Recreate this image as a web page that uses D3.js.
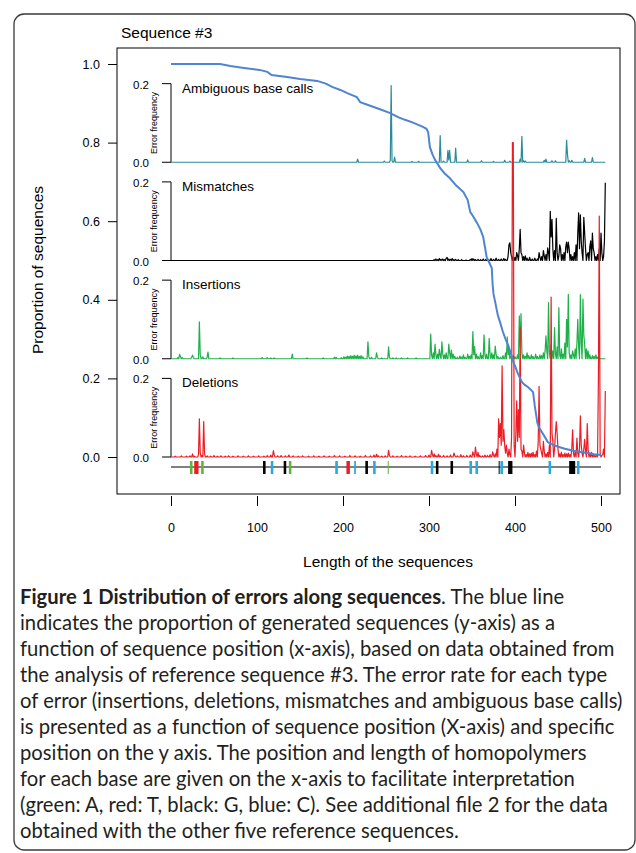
<!DOCTYPE html>
<html><head><meta charset="utf-8">
<script src="https://cdn.jsdelivr.net/npm/d3@7/dist/d3.min.js"></script>
<style>body{margin:0;background:#fff}svg{display:block}</style>
</head><body>
<svg id="c" width="636" height="853"></svg>
<script>
// ---------- data ----------
const xTicks = [0, 100, 200, 300, 400, 500];
const yTicks = [0.0, 0.2, 0.4, 0.6, 0.8, 1.0];
const panelNames = ["Ambiguous base calls", "Mismatches", "Insertions", "Deletions"];
const panelOffsets = [0.75, 0.5, 0.25, 0];
const panelTicks = [0.0, 0.2];
const seriesEnd = 505;

// proportion of sequences (blue line)
const propPos = [0,45,57,69,85,103,112,117,135,150,170,180,188,197,205,216,220,230,243,255,264,272,280,293,297,299,301,304,307,313,318,324,332,340,345,348,352,356,360,363,365,367,370,373,374,375,377,380,383,386,389,392,395,398,401,403,406,408,411,415,418,421,423,426,428,431,435,438,445,452,458,464,470,477,484,492,500];
const propVal = [1.0,1.0,1.0,0.995,0.99,0.985,0.98,0.972,0.967,0.962,0.957,0.95,0.941,0.934,0.926,0.916,0.903,0.895,0.885,0.875,0.865,0.858,0.852,0.84,0.835,0.827,0.789,0.77,0.756,0.735,0.722,0.71,0.69,0.674,0.654,0.623,0.61,0.595,0.578,0.56,0.535,0.509,0.495,0.481,0.438,0.415,0.394,0.361,0.34,0.318,0.3,0.285,0.265,0.242,0.226,0.214,0.2,0.191,0.184,0.178,0.172,0.165,0.13,0.087,0.075,0.064,0.05,0.038,0.03,0.025,0.021,0.018,0.015,0.012,0.01,0.007,0.005];

// error frequencies: [position, value], all other positions are 0
const ambiguousPeaks = [[217,0.008],[248,0.003],[255,0.005],[256,0.195],[257,0.004],[260,0.013],[280,0.002],[288,0.002],[313,0.068],[317,0.003],[322,0.03],[323,0.006],[324,0.03],[331,0.036],[345,0.006],[361,0.004],[375,0.002],[388,0.005],[394,0.003],[406,0.008],[408,0.066],[410,0.004],[412,0.003],[434,0.005],[436,0.008],[443,0.004],[447,0.004],[460,0.056],[461,0.02],[463,0.004],[466,0.005],[481,0.01],[490,0.012]];

const mismatchPeaks = [[306,0.002],[308,0.004],[310,0.002],[312,0.005],[314,0.003],[316,0.004],[318,0.002],[320,0.006],[321,0.008],[323,0.004],[325,0.003],[327,0.005],[329,0.002],[331,0.003],[334,0.002],[338,0.002],[343,0.001],[348,0.003],[350,0.005],[352,0.004],[354,0.002],[357,0.003],[360,0.002],[363,0.004],[366,0.003],[369,0.002],[372,0.005],[375,0.003],[378,0.006],[381,0.003],[384,0.004],[387,0.005],[389,0.003],[392,0.012],[393,0.04],[394,0.045],[395,0.02],[396,0.01],[398,0.012],[400,0.008],[402,0.02],[403,0.012],[405,0.03],[406,0.079],[407,0.02],[408,0.015],[410,0.01],[412,0.012],[414,0.006],[417,0.008],[420,0.004],[423,0.006],[426,0.004],[428,0.02],[429,0.008],[431,0.01],[433,0.025],[434,0.012],[436,0.015],[438,0.032],[439,0.02],[441,0.125],[442,0.06],[443,0.105],[444,0.03],[446,0.025],[448,0.107],[449,0.02],[451,0.012],[452,0.04],[453,0.03],[455,0.015],[457,0.02],[459,0.035],[460,0.047],[461,0.02],[462,0.047],[463,0.03],[465,0.015],[467,0.01],[469,0.02],[471,0.04],[473,0.07],[474,0.121],[475,0.03],[476,0.116],[477,0.05],[478,0.02],[480,0.11],[481,0.07],[482,0.03],[484,0.015],[485,0.02],[487,0.035],[488,0.05],[490,0.07],[491,0.03],[492,0.02],[494,0.01],[496,0.015],[498,0.03],[500,0.07],[501,0.02],[503,0.01],[504,0.05],[505,0.198]];

const insertionPeaks = [[8,0.003],[10,0.011],[11,0.006],[13,0.003],[24,0.004],[25,0.009],[26,0.003],[33,0.094],[34,0.01],[37,0.005],[42,0.004],[43,0.017],[57,0.002],[72,0.002],[106,0.003],[112,0.003],[116,0.002],[120,0.002],[141,0.012],[158,0.002],[177,0.002],[190,0.004],[192,0.004],[198,0.003],[201,0.005],[203,0.004],[205,0.007],[207,0.006],[209,0.008],[211,0.006],[213,0.009],[215,0.007],[217,0.009],[219,0.006],[221,0.008],[223,0.005],[229,0.043],[230,0.006],[233,0.004],[239,0.015],[240,0.004],[245,0.002],[253,0.03],[254,0.004],[258,0.002],[262,0.002],[268,0.002],[275,0.002],[285,0.002],[302,0.063],[303,0.01],[305,0.015],[307,0.037],[308,0.01],[310,0.012],[312,0.024],[313,0.008],[315,0.043],[316,0.012],[318,0.01],[320,0.015],[323,0.037],[324,0.015],[326,0.022],[328,0.012],[330,0.006],[333,0.004],[336,0.007],[338,0.004],[340,0.01],[342,0.004],[345,0.012],[347,0.006],[349,0.01],[351,0.069],[352,0.01],[353,0.031],[355,0.012],[357,0.006],[360,0.015],[362,0.008],[364,0.061],[365,0.01],[367,0.012],[370,0.052],[371,0.01],[373,0.015],[375,0.01],[377,0.032],[378,0.012],[380,0.006],[383,0.004],[386,0.008],[389,0.015],[391,0.056],[392,0.01],[393,0.025],[395,0.006],[398,0.008],[400,0.005],[403,0.01],[405,0.109],[406,0.03],[407,0.115],[408,0.015],[410,0.01],[412,0.006],[414,0.015],[416,0.008],[419,0.01],[421,0.006],[424,0.012],[426,0.006],[429,0.01],[431,0.008],[433,0.015],[435,0.02],[436,0.058],[437,0.02],[439,0.143],[440,0.015],[442,0.035],[444,0.02],[446,0.079],[447,0.012],[449,0.03],[451,0.13],[452,0.01],[454,0.025],[456,0.012],[458,0.04],[460,0.1],[461,0.03],[462,0.164],[463,0.015],[465,0.01],[467,0.02],[468,0.01],[470,0.025],[472,0.04],[473,0.1],[474,0.03],[476,0.163],[477,0.04],[479,0.152],[480,0.06],[481,0.037],[483,0.025],[485,0.02],[487,0.01],[490,0.008],[492,0.006],[494,0.01],[496,0.004],[498,0.002]];

const deletionPeaks = [[5,0.002],[12,0.003],[18,0.002],[22,0.003],[25,0.008],[27,0.002],[32,0.006],[33,0.097],[34,0.01],[36,0.004],[38,0.09],[39,0.008],[42,0.003],[46,0.002],[50,0.004],[54,0.002],[58,0.003],[63,0.002],[67,0.003],[72,0.002],[78,0.003],[84,0.002],[90,0.003],[96,0.002],[102,0.003],[108,0.002],[112,0.004],[116,0.005],[119,0.016],[120,0.006],[124,0.003],[128,0.004],[133,0.003],[137,0.005],[142,0.003],[148,0.002],[153,0.003],[160,0.002],[166,0.003],[172,0.002],[178,0.003],[184,0.002],[190,0.004],[196,0.003],[202,0.002],[208,0.004],[214,0.003],[220,0.002],[226,0.004],[232,0.003],[236,0.005],[239,0.007],[241,0.003],[245,0.002],[249,0.003],[253,0.017],[254,0.004],[258,0.003],[263,0.002],[268,0.004],[273,0.002],[278,0.003],[284,0.002],[290,0.003],[296,0.004],[300,0.005],[303,0.017],[304,0.006],[306,0.008],[308,0.004],[311,0.007],[313,0.003],[317,0.004],[321,0.003],[325,0.005],[329,0.01],[330,0.004],[333,0.003],[337,0.006],[340,0.003],[344,0.004],[348,0.005],[351,0.013],[352,0.006],[354,0.025],[355,0.008],[357,0.012],[359,0.004],[362,0.003],[365,0.005],[368,0.004],[371,0.006],[374,0.013],[375,0.004],[377,0.008],[379,0.02],[381,0.097],[382,0.05],[383,0.085],[384,0.03],[385,0.232],[386,0.04],[387,0.07],[388,0.03],[389,0.01],[390,0.03],[391,0.01],[393,0.02],[394,0.006],[396,0.05],[397,0.8],[398,0.8],[399,0.03],[401,0.06],[402,0.143],[403,0.04],[404,0.12],[405,0.05],[406,0.33],[407,0.02],[408,0.015],[410,0.03],[411,0.01],[413,0.006],[415,0.012],[417,0.008],[419,0.01],[421,0.012],[423,0.006],[425,0.015],[427,0.04],[428,0.18],[429,0.03],[430,0.02],[431,0.01],[433,0.04],[434,0.015],[436,0.008],[438,0.012],[440,0.03],[442,0.407],[443,0.06],[444,0.04],[446,0.02],[447,0.06],[448,0.09],[449,0.06],[450,0.02],[452,0.008],[454,0.012],[456,0.006],[458,0.01],[460,0.008],[462,0.01],[464,0.006],[466,0.02],[467,0.069],[468,0.01],[470,0.015],[472,0.048],[473,0.01],[475,0.02],[476,0.105],[477,0.03],[478,0.01],[480,0.02],[481,0.045],[482,0.015],[484,0.085],[485,0.02],[487,0.01],[489,0.012],[491,0.006],[493,0.004],[495,0.006],[497,0.2],[498,0.613],[499,0.01],[501,0.004],[502,0.006],[503,0.02],[505,0.168]];

// homopolymers
const homoStart = [22,27,35,107,116,131,137,191,204,213,226,235,252,302,308,325,347,354,381,383,392,439,463,472];
const homoLen   = [3,5,3,3,3,3,3,3,4,2,3,3,1,3,3,3,3,3,1,3,5,3,7,3];
const homoBase  = ["A","T","A","G","C","G","A","C","T","C","G","C","A","C","G","G","C","C","G","C","G","C","G","C"];
const baseColor = {A:"#5db53a", T:"#ed1c24", G:"#000000", C:"#27a9e1"};

const captionBold = "Figure 1 Distribution of errors along sequences";
const captionLines = [
  ". The blue line",
  "indicates the proportion of generated sequences (y-axis) as a",
  "function of sequence position (x-axis), based on data obtained from",
  "the analysis of reference sequence #3. The error rate for each type",
  "of error (insertions, deletions, mismatches and ambiguous base calls)",
  "is presented as a function of sequence position (X-axis) and specific",
  "position on the y axis. The position and length of homopolymers",
  "for each base are given on the x-axis to facilitate interpretation",
  "(green: A, red: T, black: G, blue: C). See additional file 2 for the data",
  "obtained with the other five reference sequences."
];

// ---------- drawing ----------
const svg = d3.select("#c");
const FONT = "'Liberation Sans', Arial, sans-serif";
svg.append("rect").attr("width",636).attr("height",853).attr("fill","#fff");

// outer frame
svg.append("rect").attr("x",14).attr("y",14).attr("width",621).attr("height",836)
  .attr("rx",10).attr("fill","none").attr("stroke","#3a3a3a").attr("stroke-width",1.3);

const x = d3.scaleLinear().domain([0,500]).range([171,601]);
const y = d3.scaleLinear().domain([0,1]).range([457,64]);

// plot box
svg.append("rect").attr("x",117).attr("y",48).attr("width",503).attr("height",446)
  .attr("fill","none").attr("stroke","#000").attr("stroke-width",1);

svg.append("text").attr("x",121).attr("y",38).attr("font-family",FONT).attr("font-size",15.5)
  .text("Sequence #3");

// left axis
const yAxis = d3.axisLeft(y).tickValues(yTicks).tickFormat(d3.format(".1f")).tickSize(9).tickPadding(8);
const gy = svg.append("g").attr("transform","translate(117,0)").call(yAxis);
gy.select(".domain").remove();
gy.selectAll("text").attr("font-family",FONT).attr("font-size",12.5).attr("fill","#000");

svg.append("text").attr("transform","translate(43,270) rotate(-90)").attr("text-anchor","middle")
  .attr("font-family",FONT).attr("font-size",15.5).text("Proportion of sequences");

// bottom axis
const xAxis = d3.axisBottom(x).tickValues(xTicks).tickSize(10).tickPadding(17).tickSizeOuter(0);
const gx = svg.append("g").attr("transform","translate(0,496)").call(xAxis);
gx.select(".domain").remove();
gx.selectAll("text").attr("font-family",FONT).attr("font-size",12.5).attr("fill","#000");
svg.append("text").attr("x",388).attr("y",567).attr("text-anchor","middle")
  .attr("font-family",FONT).attr("font-size",15.5).text("Length of the sequences");

// build full series from peaks
function fullSeries(peaks){
  const arr = d3.range(0, seriesEnd+1).map(()=>0);
  peaks.forEach(([p,v])=>{arr[p]=v;});
  return arr;
}
const seriesData = [fullSeries(ambiguousPeaks), fullSeries(mismatchPeaks), fullSeries(insertionPeaks), fullSeries(deletionPeaks)];
const seriesColor = ["#2b8a9b", "#000000", "#1fb04a", "#ee1c24"];

// panel axes and labels
panelOffsets.forEach((off,i)=>{
  const g = svg.append("g");
  g.append("line").attr("x1",x(0)).attr("x2",x(0)).attr("y1",y(off)).attr("y2",y(off+0.2)).attr("stroke","#000");
  panelTicks.forEach(t=>{
    g.append("line").attr("x1",x(0)-9).attr("x2",x(0)).attr("y1",y(off+t)).attr("y2",y(off+t)).attr("stroke","#000");
    g.append("text").attr("x",x(0)-22).attr("y",y(off+t)+5).attr("text-anchor","end")
      .attr("font-family",FONT).attr("font-size",11.5).text(d3.format(".1f")(t));
  });
  g.append("text").attr("transform",`translate(${x(0)-17},${y(off+0.1)}) rotate(-90)`)
    .attr("text-anchor","middle").attr("dy","0.35em").attr("font-family",FONT).attr("font-size",9)
    .text("Error frequency");
  g.append("text").attr("x",182).attr("y",y(off+0.2)+9).attr("font-family",FONT).attr("font-size",13.5)
    .text(panelNames[i]);
});

// series lines
seriesData.forEach((arr,i)=>{
  const off = panelOffsets[i];
  const line = d3.line().x((d,j)=>x(j)).y(d=>y(off+d));
  svg.append("path").datum(arr).attr("d",line).attr("fill","none")
    .attr("stroke",seriesColor[i]).attr("stroke-width",1.2).attr("stroke-linejoin","round");
});

// homopolymer track
const hy = 467;
svg.append("line").attr("x1",x(0)).attr("x2",x(500)).attr("y1",hy).attr("y2",hy).attr("stroke","#000").attr("stroke-width",1);
svg.append("g").selectAll("rect").data(homoStart).join("rect")
  .attr("x",(d)=>x(d))
  .attr("width",(d,i)=>Math.max(1, x(d+homoLen[i])-x(d)))
  .attr("y",hy-6).attr("height",13)
  .attr("fill",(d,i)=>baseColor[homoBase[i]]);

// proportion line
const pline = d3.line().x((d,i)=>x(propPos[i])).y(d=>y(d));
svg.append("path").datum(propVal).attr("d",pline).attr("fill","none")
  .attr("stroke","#4f84cf").attr("stroke-width",2);

// caption
const CF = "Lato, 'Open Sans', sans-serif";
const cap = svg.append("g").attr("font-family",CF).attr("font-size",20).attr("fill","#231f20");
const lh = 26, cy0 = 604;
const t0 = cap.append("text").attr("x",20).attr("y",cy0);
t0.append("tspan").attr("font-weight","bold").text(captionBold);
t0.append("tspan").text(captionLines[0]);
captionLines.slice(1).forEach((s,i)=>{
  cap.append("text").attr("x",20).attr("y",cy0+lh*(i+1)).text(s);
});
// fit the widest caption line into the frame
let maxW = 0;
cap.selectAll("text").each(function(){ maxW = Math.max(maxW, this.getComputedTextLength()); });
if (maxW > 0) cap.attr("font-size", 20 * 603 / maxW);
</script>
</body></html>
